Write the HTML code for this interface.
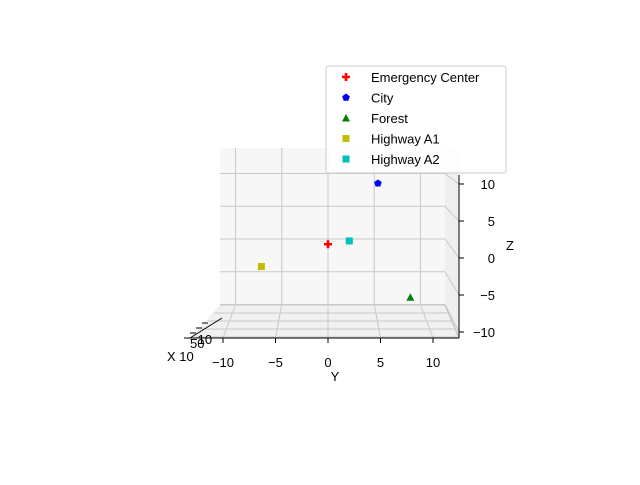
<!DOCTYPE html>
<html><head><meta charset="utf-8"><style>body{margin:0;background:#fff}svg{font-family:"Liberation Sans",sans-serif}</style></head>
<body>
<svg width="640" height="480" id="svg">
<rect width="640" height="480" fill="#fff"/>
<g id="panes">
<polygon points="220,148 445,148 445,305 220,305" fill="#f7f7f7"/>
<polygon points="445,148 459,148 459,338 445,305" fill="#efefef"/>
<polygon points="220,305 445,305 459,338 190,338" fill="#f0f0f0"/>
</g>
<g id="grid" stroke="#c8c8c8" stroke-width="1"></g>
<g id="axes" stroke="#000" stroke-width="1"></g>
<g id="marks"></g>
<g id="labels" font-size="13" fill="#000"></g>
<g id="legend">
<rect x="326" y="66" width="180" height="107" fill="#fff" fill-opacity="0.85" stroke="#ccc" rx="2"/>
</g>
</svg>
<script>
const names=["Emergency Center","City","Forest","Highway A1","Highway A2"];
const yVals=[0,5.4,8.9,-7.2,2.3];
const zVals=[-0.8,8.5,-8.9,-4.2,-0.3];
const colors=["#ff0000","#0000ff","#008000","#bfbf00","#00bfbf"];
const shapes=["plus","pent","tri","sq","sq"];
const yTicks=[-10,-5,0,5,10];
const zTicks=[-10,-5,0,5,10];
const NS="http://www.w3.org/2000/svg";
function mk(t,a,p){const e=document.createElementNS(NS,t);for(const k in a)e.setAttribute(k,a[k]);p.appendChild(e);return e;}
const backX=v=>328+9.25*v, backY=v=>239-6.55*v;
const frontX=v=>328+10.5*v, sideY=v=>258-7.4*v;
const grid=document.getElementById('grid'),axes=document.getElementById('axes'),labels=document.getElementById('labels'),marks=document.getElementById('marks');
yTicks.forEach(t=>{
 let l=mk('line',{x1:backX(t),y1:148,x2:backX(t),y2:305},grid);
 
 
 mk('line',{x1:backX(t),y1:305,x2:frontX(t),y2:338},grid);
 mk('line',{x1:frontX(t),y1:338,x2:frontX(t),y2:343},axes);
 let tx=mk('text',{x:frontX(t),y:367,'text-anchor':'middle'},labels);
 tx.textContent=t<0?'−'+(-t):t;
 
 
});
zTicks.forEach(t=>{
 let l=mk('line',{x1:220,y1:backY(t),x2:445,y2:backY(t)},grid);
 
 
 mk('line',{x1:445,y1:backY(t),x2:459,y2:sideY(t)},grid);
 mk('line',{x1:459,y1:sideY(t),x2:464,y2:sideY(t)},axes);
 let tx=mk('text',{x:495,y:sideY(t)+5,'text-anchor':'end'},labels);
 tx.textContent=t<0?'−'+(-t):t;
 
 
});
for(let i=0;i<5;i++){mk('line',{x1:220-6*i,y1:305+8*i,x2:445+3*i,y2:305+8*i},grid);mk('line',{x1:445,y1:305,x2:459,y2:338},grid);}
mk('line',{x1:190,y1:338,x2:459,y2:338},axes);
mk('line',{x1:459,y1:175,x2:459,y2:338},axes);
mk('line',{x1:190,y1:338,x2:222,y2:318},axes);
for(let i=0;i<4;i++)mk('line',{x1:190+6*i,y1:338-5*i,x2:184+6*i,y2:338-5*i},axes);
[['Y',335,381],['Z',510,250],['X 10',167,361],['−10',190,344],['50',190,348]].forEach(([s,x,y],i)=>{
 let t=mk('text',{x:x,y:y,'text-anchor':i<2?'middle':'start'},labels);t.textContent=s;
 
 
});
function marker(shape,x,y,c,p){
 if(shape=='plus')return mk('path',{d:`M${x-4},${y-1.3}h2.7v-2.7h2.6v2.7h2.7v2.6h-2.7v2.7h-2.6v-2.7h-2.7z`,fill:c},p);
 if(shape=='pent'){let pts=[];for(let k=0;k<5;k++){let a=-Math.PI/2+k*2*Math.PI/5;pts.push((x+4*Math.cos(a))+','+(y+4*Math.sin(a)));}return mk('polygon',{points:pts.join(' '),fill:c},p);}
 if(shape=='tri')return mk('polygon',{points:`${x},${y-4} ${x+4},${y+3.5} ${x-4},${y+3.5}`,fill:c},p);
 return mk('rect',{x:x-3.5,y:y-3.5,width:7,height:7,fill:c},p);
}
names.forEach((n,i)=>{
 let m=marker(shapes[i],backX(yVals[i]),backY(zVals[i]),colors[i],marks);
 
 
});
const leg=document.getElementById('legend');
names.forEach((n,i)=>{
 let y=77+20.5*i;
 let m=marker(shapes[i],346,y,colors[i],leg);
 
 
 let t=mk('text',{x:371,y:y+5,'font-size':'13'},leg);t.textContent=n;
 
 
});
</script>
</body></html>
